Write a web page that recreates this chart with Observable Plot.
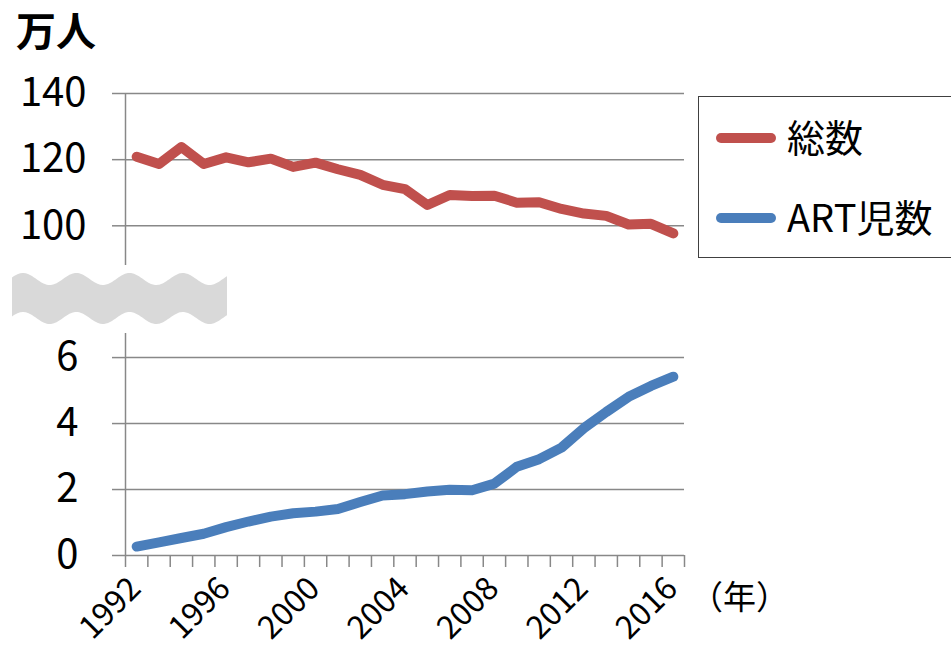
<!DOCTYPE html>
<html>
<head>
<meta charset="utf-8">
<script src="https://cdn.jsdelivr.net/npm/d3@7"></script>
<script src="https://cdn.jsdelivr.net/npm/@observablehq/plot@0.6"></script>
<style>
  html, body { margin: 0; padding: 0; background: #fff; }
  #wrap { position: relative; width: 951px; height: 646px; overflow: hidden; font-family: "Noto Sans CJK JP", "Noto Sans", sans-serif; color: #000; }
  #wrap > * { position: absolute; }
  .ttl { left: 16px; top: 0px; font-size: 40px; font-weight: bold; line-height: normal; white-space: nowrap; }
  .unit { left: 690px; top: 579px; font-size: 33px; line-height: 1; white-space: nowrap; }
  .legend { left: 698px; top: 96px; width: 300px; height: 162px; border: 1.5px solid #404040; box-sizing: border-box; background: #fff; }
  .legend .sw { position: absolute; left: 17px; width: 60px; height: 10px; border-radius: 5px; }
  .legend .lb { position: absolute; left: 88px; font-size: 38px; line-height: 1; white-space: nowrap; }
</style>
</head>
<body>
<div id="wrap"></div>
<script>
// ---- data ----
const years = [1992, 1993, 1994, 1995, 1996, 1997, 1998, 1999, 2000, 2001, 2002, 2003, 2004,
               2005, 2006, 2007, 2008, 2009, 2010, 2011, 2012, 2013, 2014, 2015, 2016];
const totalBirths = [120.9, 118.7, 123.8, 118.7, 120.7, 119.2, 120.3, 117.8, 119.1, 117.1, 115.4, 112.4, 111.1,
                     106.3, 109.3, 109.0, 109.1, 107.0, 107.1, 105.1, 103.7, 103.0, 100.4, 100.6, 97.7];
const artBirths = [0.27, 0.40, 0.53, 0.66, 0.86, 1.03, 1.18, 1.28, 1.33, 1.41, 1.62, 1.82, 1.86,
                   1.94, 1.99, 1.98, 2.18, 2.69, 2.92, 3.27, 3.86, 4.35, 4.81, 5.14, 5.42];
const seriesNames = ["総数", "ART児数"];
const topTicks = [100, 120, 140];
const bottomTicks = [0, 2, 4, 6];
const labelYears = years.filter((d, i) => i % 4 === 0);
const titleText = "万人";
const unitText = "（年）";

const red = "#C0504D", blue = "#4A7EBB", grid = "#888888";
const font = "'Noto Sans CJK JP', 'Noto Sans', sans-serif";

const totalData = years.map((y, i) => ({year: y, value: totalBirths[i]}));
const artData = years.map((y, i) => ({year: y, value: artBirths[i]}));
const xMin = years[0] - 0.5, xMax = years[years.length - 1] + 0.5;
const bounds = years.map(y => y - 0.5).concat([xMax]);

const wrap = document.getElementById("wrap");

// ---- top panel (総数) ----
const topPlot = Plot.plot({
  width: 951, height: 275,
  marginLeft: 125, marginRight: 267, marginTop: 93, marginBottom: 10,
  x: {domain: [xMin, xMax], axis: null},
  y: {domain: [88, 140], axis: null},
  style: {fontFamily: font, fontSize: "40px", background: "transparent", overflow: "visible"},
  marks: [
    Plot.gridY(topTicks, {stroke: grid, strokeOpacity: 1, strokeWidth: 1.5}),
    Plot.axisY(topTicks, {tickSize: 13, tickPadding: 26, stroke: grid, strokeWidth: 1.5, label: null, fill: "#000"}),
    Plot.ruleX([xMin], {stroke: grid, strokeWidth: 1.5}),
    Plot.line(totalData, {x: "year", y: "value", stroke: red, strokeWidth: 10, strokeLinecap: "round", strokeLinejoin: "round"})
  ]
});
topPlot.style.left = "0px"; topPlot.style.top = "0px";
wrap.appendChild(topPlot);

// ---- bottom panel (ART児数) ----
const botPlot = Plot.plot({
  width: 951, height: 326,
  marginLeft: 125, marginRight: 267, marginTop: 13, marginBottom: 91,
  x: {domain: [xMin, xMax], axis: null},
  y: {domain: [0, 6.73], axis: null},
  style: {fontFamily: font, fontSize: "40px", background: "transparent", overflow: "visible"},
  marks: [
    Plot.gridY(bottomTicks, {stroke: grid, strokeOpacity: 1, strokeWidth: 1.5}),
    Plot.axisY(bottomTicks, {tickSize: 13, tickPadding: 34, stroke: grid, strokeWidth: 1.5, label: null, fill: "#000"}),
    Plot.axisX(bounds, {tickSize: 12, tickFormat: () => "", stroke: grid, strokeWidth: 1.5, label: null}),
    Plot.ruleX([xMin], {stroke: grid, strokeWidth: 1.5}),
    Plot.line(artData, {x: "year", y: "value", stroke: blue, strokeWidth: 10, strokeLinecap: "round", strokeLinejoin: "round"}),
    Plot.text(labelYears, {x: d => d, text: d => String(d), frameAnchor: "bottom", rotate: -45,
      textAnchor: "end", lineAnchor: "bottom", dx: 6, dy: 35, fontSize: 32, fill: "#000"})
  ]
});
botPlot.style.left = "0px"; botPlot.style.top = "320px";
wrap.appendChild(botPlot);

// ---- axis-break decoration ----
const ns = "http://www.w3.org/2000/svg";
const brk = document.createElementNS(ns, "svg");
brk.setAttribute("width", 951); brk.setAttribute("height", 646);
brk.style.left = "0px"; brk.style.top = "0px"; brk.style.pointerEvents = "none";
const x0 = 12, x1 = 227, P = 53.3, A = 6, cTop = 279, cBot = 318, ph = 23;
const topEdge = d3.range(x0, x1 + 0.01, 1).map(x => [x, cTop - A * Math.cos(2 * Math.PI * (x - ph) / P)]);
const botEdge = d3.range(x1, x0 - 0.01, -1).map(x => [x, cBot - A * Math.cos(2 * Math.PI * (x - ph) / P)]);
const path = document.createElementNS(ns, "path");
path.setAttribute("d", "M" + topEdge.concat(botEdge).map(p => p.join(",")).join("L") + "Z");
path.setAttribute("fill", "#D9D9D9");
brk.appendChild(path);
wrap.appendChild(brk);

// ---- title / unit ----
const t = document.createElement("div"); t.className = "ttl"; t.textContent = titleText; wrap.appendChild(t);
const u = document.createElement("div"); u.className = "unit"; u.textContent = unitText; wrap.appendChild(u);

// ---- legend ----
const lg = document.createElement("div"); lg.className = "legend";
[[seriesNames[0], red, 41], [seriesNames[1], blue, 121]].forEach(([name, col, cy]) => {
  const sw = document.createElement("div"); sw.className = "sw";
  sw.style.background = col; sw.style.top = (cy - 5) + "px"; lg.appendChild(sw);
  const lb = document.createElement("div"); lb.className = "lb";
  lb.textContent = name; lb.style.top = (cy - 21) + "px"; lg.appendChild(lb);
});
wrap.appendChild(lg);
</script>
</body>
</html>
